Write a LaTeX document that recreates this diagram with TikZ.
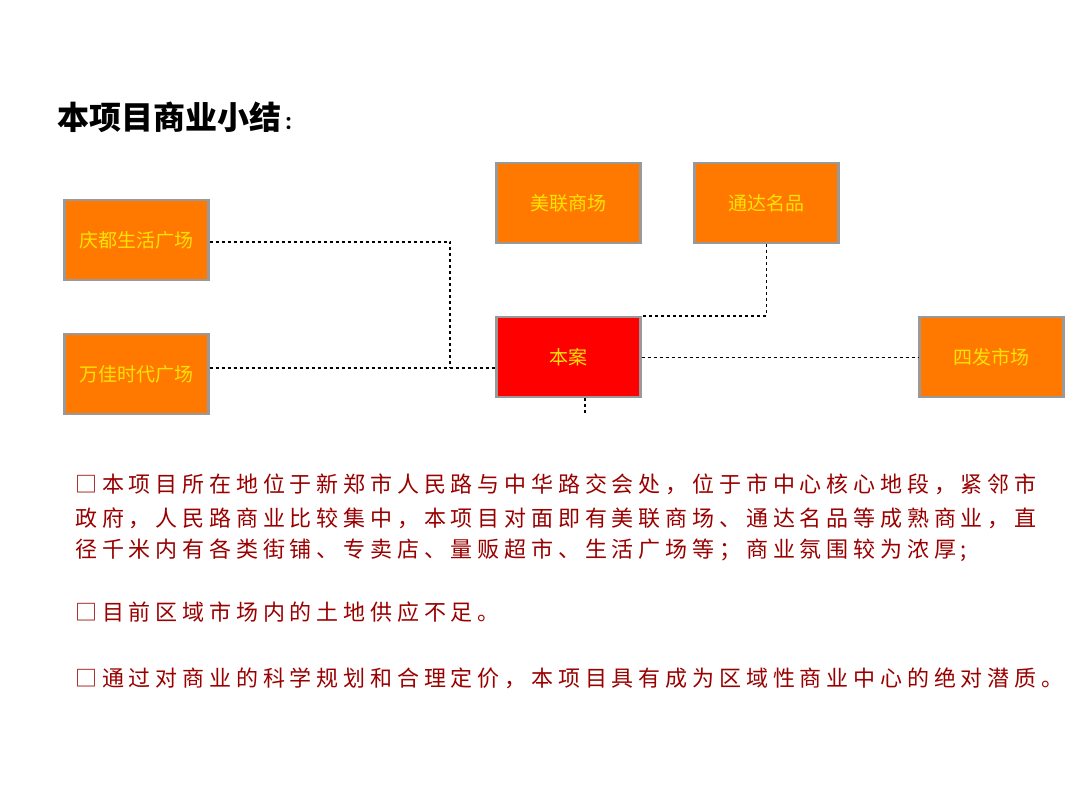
\documentclass[tikz,border=0pt]{standalone}
\usepackage{fontspec}
\setmainfont{Noto Sans CJK SC}
\begin{document}
\begin{tikzpicture}[x=1pt,y=-1pt,
  bx/.style={draw=gray!80,line width=2.5pt,fill=orange!95!red,minimum width=144pt,minimum height=80pt,inner sep=0pt,anchor=north west,text=yellow!85!orange,font=\fontsize{19}{22}\selectfont},
  dl/.style={dashed,line width=1.2pt},
  tx/.style={anchor=west,inner sep=0pt,text=red!60!black,font=\fontsize{22}{26}\selectfont\addfontfeatures{LetterSpace=22}}]
\useasboundingbox (0,0) rectangle (1080,810);
\fill[white] (0,0) rectangle (1080,810);
\node[anchor=west,inner sep=0pt,font=\fontsize{32}{36}\bfseries\selectfont] (t) at (57,117) {本项目商业小结\fontsize{18}{20}\selectfont\,：};
\node[bx] (qd) at (63,199) {庆都生活广场};
\node[bx] (wj) at (63,333) {万佳时代广场};
\node[bx] (ml) at (495,162) {美联商场};
\node[bx] (td) at (693,162) {通达名品};
\node[bx,fill=red] (ba) at (495,316) {本案};
\node[bx] (sf) at (918,316) {四发市场};
\coordinate (j) at (450,368);
\coordinate (e) at (585,414);
\draw[dl] (qd.east|-0,242) -| (j);
\draw[dl] (wj.east|-0,368) -- (ba.west|-0,368);
\draw[dl] (td.south) |- (ba.north east);
\draw[dl] (ba.east) -- (sf.west);
\draw[dl] (ba.south-|e) -- (e);
\node[tx] (l1) at (75,484) {□本项目所在地位于新郑市人民路与中华路交会处，位于市中心核心地段，紧邻市};
\node[tx] (l2) at (75,518) {政府，人民路商业比较集中，本项目对面即有美联商场、通达名品等成熟商业，直};
\node[tx] (l3) at (75,550) {径千米内有各类街铺、专卖店、量贩超市、生活广场等；商业氛围较为浓厚;};
\node[tx] (l4) at (75,612) {□目前区域市场内的土地供应不足。};
\node[tx] (l5) at (75,678) {□通过对商业的科学规划和合理定价，本项目具有成为区域性商业中心的绝对潜质。};
\end{tikzpicture}
\end{document}
